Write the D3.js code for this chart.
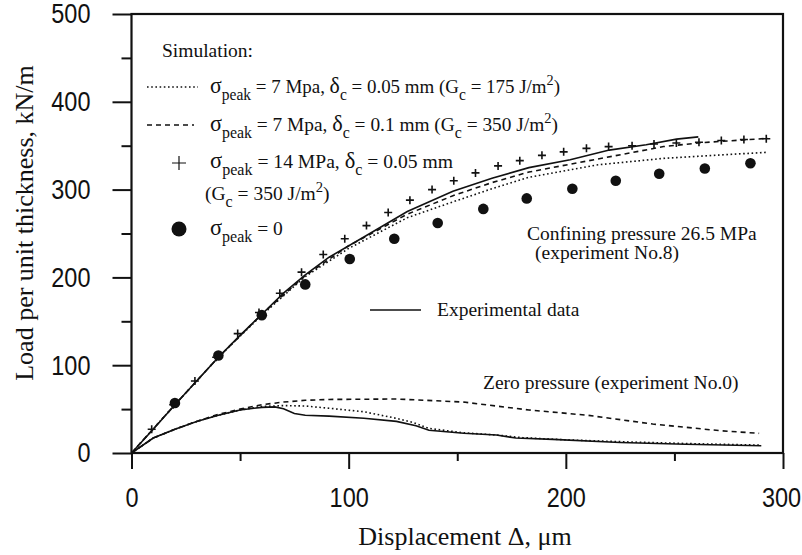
<!DOCTYPE html>
<html lang="en">
<head>
  <meta charset="UTF-8">
  <title>Load vs displacement</title>
  <script src="https://d3js.org/d3.v7.min.js"></script>
  <style>
    body {
      margin: 0;
      background-color: #ffffff;
    }
    svg {
      display: block;
    }
    .serif {
      font-family: "Liberation Serif", "Times New Roman", serif;
      fill: #111;
    }
    .tick text {
      font-family: "Liberation Sans", Arial, sans-serif;
      font-size: 28px;
      fill: #111;
    }
    .tick line {
      stroke: #111;
      stroke-width: 2;
    }
  </style>
</head>
<body>
  <div id="chart"></div>

  <script>
    // confining pressure 26.5 MPa (experiment No.8)
    const exp8X = [0, 10, 20, 30, 40, 50, 60, 70, 80, 91, 107, 127, 148, 166, 183, 202, 220, 237, 251, 261];
    const exp8Y = [0, 27, 55, 82, 109, 134, 158, 182, 203, 223, 246, 275, 298, 313, 325, 334, 345, 351, 357.5, 360];
    const dot8X = [0, 20, 40, 60, 80, 100, 127, 148, 166, 183, 214, 245, 275, 293];
    const dot8Y = [0, 55, 109, 157, 201, 233, 268, 286, 301, 314, 328, 335.6, 340, 342.5];
    const dash8X = [0, 20, 40, 60, 80, 100, 127, 148, 166, 183, 214, 245, 263, 293];
    const dash8Y = [0, 55, 109, 158, 202, 236, 272, 293, 308, 320, 334.5, 349, 353.5, 358.4];
    const crossX = [9.3, 19.2, 29.2, 39, 48.9, 58.7, 68.3, 78.3, 88.3, 98.2, 108.2, 118.2, 128.2, 138.4, 148.4,
      158.4, 168.8, 178.8, 189, 199, 209.5, 219.7, 230.5, 240.6, 250.9, 261.3, 271.6, 282, 292.3];
    const crossY = [27, 55, 82, 109, 136, 160, 182, 206, 226, 244, 259, 274, 288, 300, 310,
      319, 327, 333, 339, 343, 347, 349, 350, 352, 353, 354, 356, 357, 358];
    const circleX = [20, 40, 60, 80, 100.5, 121, 141, 162, 182, 203, 223, 243, 264, 285];
    const circleY = [57, 111, 157, 192, 221, 244, 262, 278, 290, 301, 310, 318, 324, 330];

    // zero pressure (experiment No.0)
    const exp0X = [0, 10, 20, 30, 40, 50, 60, 66, 70, 75, 80, 91, 107, 122, 131, 137, 153, 168, 177, 194, 225, 255, 290];
    const exp0Y = [0, 17, 27, 36, 43, 49, 52, 52.5, 50.5, 45, 43, 42, 39.5, 36, 31, 26, 22.5, 20.5, 17, 15.5, 12, 10, 8.3];
    const dot0X = [0, 10, 20, 30, 40, 50, 60, 70, 80, 91, 107, 122, 130, 137, 153, 168, 180, 200, 230, 260, 290];
    const dot0Y = [0, 17, 27, 36, 43, 49, 53, 54, 53.5, 51, 47, 39.5, 34.5, 28, 23, 20.5, 17.5, 15, 12.5, 10.5, 9];
    const dash0X = [0, 10, 20, 30, 40, 50, 60, 70, 80, 91, 122, 153, 183, 210, 240, 271, 289];
    const dash0Y = [0, 17, 27, 36, 44, 50, 55, 58, 60, 61, 61.5, 58, 49, 43, 33, 25.4, 22.4];

    const xTicks = [0, 100, 200, 300];
    const xMinor = [50, 150, 250];
    const yTicks = [0, 100, 200, 300, 400, 500];
    const yMinor = [50, 150, 250, 350, 450];

    const width = 802, height = 555;
    const plotLeft = 131.5, plotRight = 783, plotTop = 14, plotBottom = 453;
    const squeeze = 0.84; // tick digits are narrow

    const svg = d3.select("#chart").append("svg")
      .attr("width", width)
      .attr("height", height);

    const x = d3.scaleLinear().domain([0, 300]).range([plotLeft, plotRight]);
    const y = d3.scaleLinear().domain([0, 500]).range([plotBottom, plotTop]);

    // axes
    svg.append("g")
      .attr("transform", `translate(${plotLeft},0)`)
      .call(d3.axisLeft(y).tickValues(yTicks).tickSize(19).tickPadding(22))
      .call(g => g.select(".domain").remove())
      .call(g => g.selectAll(".tick text")
        .attr("x", -41 / squeeze)
        .attr("transform", `scale(${squeeze},1)`));
    svg.append("g")
      .attr("transform", `translate(${plotLeft},0)`)
      .call(d3.axisLeft(y).tickValues(yMinor).tickSize(10).tickFormat(""))
      .call(g => g.select(".domain").remove());
    svg.append("g")
      .attr("transform", `translate(0,${plotBottom})`)
      .call(d3.axisBottom(x).tickValues(xTicks).tickSize(16).tickPadding(18))
      .call(g => g.select(".domain").remove())
      .call(g => g.selectAll(".tick text")
        .attr("transform", `scale(${squeeze},1)`)
        .attr("x", (d, i) => i === xTicks.length - 1 ? -2 / squeeze : 0));
    svg.append("g")
      .attr("transform", `translate(0,${plotBottom})`)
      .call(d3.axisBottom(x).tickValues(xMinor).tickSize(8).tickFormat(""))
      .call(g => g.select(".domain").remove());

    svg.append("rect")
      .attr("x", plotLeft).attr("y", plotTop)
      .attr("width", plotRight - plotLeft).attr("height", plotBottom - plotTop)
      .attr("fill", "none").attr("stroke", "#111").attr("stroke-width", 2.2);

    // curves
    const line = d3.line().x(d => x(d[0])).y(d => y(d[1]));
    const curves = [
      { xs: exp8X, ys: exp8Y, dash: null },
      { xs: dot8X, ys: dot8Y, dash: "1.6,2.6" },
      { xs: dash8X, ys: dash8Y, dash: "5,4" },
      { xs: exp0X, ys: exp0Y, dash: null },
      { xs: dot0X, ys: dot0Y, dash: "1.6,2.6" },
      { xs: dash0X, ys: dash0Y, dash: "5,4" }
    ];
    curves.forEach(c => {
      svg.append("path")
        .datum(d3.zip(c.xs, c.ys))
        .attr("d", line)
        .attr("fill", "none")
        .attr("stroke", "#111")
        .attr("stroke-width", 1.6)
        .attr("stroke-dasharray", c.dash);
    });

    // markers
    svg.selectAll(".cross")
      .data(d3.zip(crossX, crossY))
      .enter()
      .append("path")
      .attr("class", "cross")
      .attr("d", d => `M${x(d[0]) - 4},${y(d[1])}h8M${x(d[0])},${y(d[1]) - 4}v8`)
      .attr("stroke", "#111")
      .attr("stroke-width", 1.6);

    svg.selectAll(".dot")
      .data(d3.zip(circleX, circleY))
      .enter()
      .append("circle")
      .attr("class", "dot")
      .attr("cx", d => x(d[0]))
      .attr("cy", d => y(d[1]))
      .attr("r", 5.3)
      .attr("fill", "#111");

    // text with sub/superscripts, baseline restored after each one
    function richText(px, py, parts, size, len) {
      const t = svg.append("text").attr("class", "serif")
        .attr("x", px).attr("y", py)
        .attr("font-size", size);
      let shift = 0;
      parts.forEach(p => {
        const s = t.append("tspan").text(p.t);
        if (p.sub) { s.attr("font-size", size * 0.82).attr("dy", 7 - shift); shift = 7; }
        else if (p.sup) { s.attr("font-size", size * 0.75).attr("dy", -8 - shift); shift = -8; }
        else if (shift !== 0) { s.attr("dy", -shift); shift = 0; }
        if (p.big) s.attr("font-size", size * 1.15);
      });
      if (len) t.attr("textLength", len).attr("lengthAdjust", "spacingAndGlyphs");
      return t;
    }

    const fs = 19.5;
    svg.append("text").attr("class", "serif").attr("x", 162).attr("y", 57)
      .attr("font-size", fs).text("Simulation:");

    richText(210, 93, [
      { t: "σ", big: true }, { t: "peak", sub: true }, { t: " = 7 Mpa, " }, { t: "δ", big: true },
      { t: "c", sub: true }, { t: " = 0.05 mm (G" }, { t: "c", sub: true }, { t: " = 175 J/m" },
      { t: "2", sup: true }, { t: ")" }
    ], fs, 350);
    richText(210, 131, [
      { t: "σ", big: true }, { t: "peak", sub: true }, { t: " = 7 Mpa, " }, { t: "δ", big: true },
      { t: "c", sub: true }, { t: " = 0.1 mm (G" }, { t: "c", sub: true }, { t: " = 350 J/m" },
      { t: "2", sup: true }, { t: ")" }
    ], fs, 348);
    richText(210, 168, [
      { t: "σ", big: true }, { t: "peak", sub: true }, { t: " = 14 MPa, " }, { t: "δ", big: true },
      { t: "c", sub: true }, { t: " = 0.05 mm" }
    ], fs, 243);
    richText(205, 200, [
      { t: "(G" }, { t: "c", sub: true }, { t: " = 350 J/m" }, { t: "2", sup: true }, { t: ")" }
    ], fs);
    richText(210, 235, [
      { t: "σ", big: true }, { t: "peak", sub: true }, { t: " = 0" }
    ], fs);

    // legend samples
    svg.append("line").attr("x1", 147).attr("x2", 198).attr("y1", 87).attr("y2", 87)
      .attr("stroke", "#111").attr("stroke-width", 1.5).attr("stroke-dasharray", "1.6,2.6");
    svg.append("line").attr("x1", 147).attr("x2", 194).attr("y1", 125).attr("y2", 125)
      .attr("stroke", "#111").attr("stroke-width", 1.5).attr("stroke-dasharray", "5,4");
    svg.append("path").attr("d", "M172,163h14M179,156v14")
      .attr("stroke", "#111").attr("stroke-width", 1.2);
    svg.append("circle").attr("cx", 179).attr("cy", 229).attr("r", 7.5).attr("fill", "#111");
    svg.append("line").attr("x1", 370).attr("x2", 421).attr("y1", 310).attr("y2", 310)
      .attr("stroke", "#111").attr("stroke-width", 1.6);

    // annotations
    const notes = [
      ["Confining pressure 26.5 MPa", 527, 240],
      ["(experiment No.8)", 535, 259],
      ["Experimental data", 437, 316],
      ["Zero pressure (experiment No.0)", 483, 389]
    ];
    notes.forEach(n => {
      svg.append("text").attr("class", "serif").attr("x", n[1]).attr("y", n[2])
        .attr("font-size", fs).text(n[0]);
    });

    // axis titles
    svg.append("text").attr("class", "serif")
      .attr("x", 465).attr("y", 545)
      .attr("text-anchor", "middle").attr("font-size", 26)
      .text("Displacement Δ, μm");
    svg.append("text").attr("class", "serif")
      .attr("transform", "translate(33,223) rotate(-90)")
      .attr("text-anchor", "middle").attr("font-size", 26)
      .text("Load per unit thickness, kN/m");
  </script>
</body>
</html>
